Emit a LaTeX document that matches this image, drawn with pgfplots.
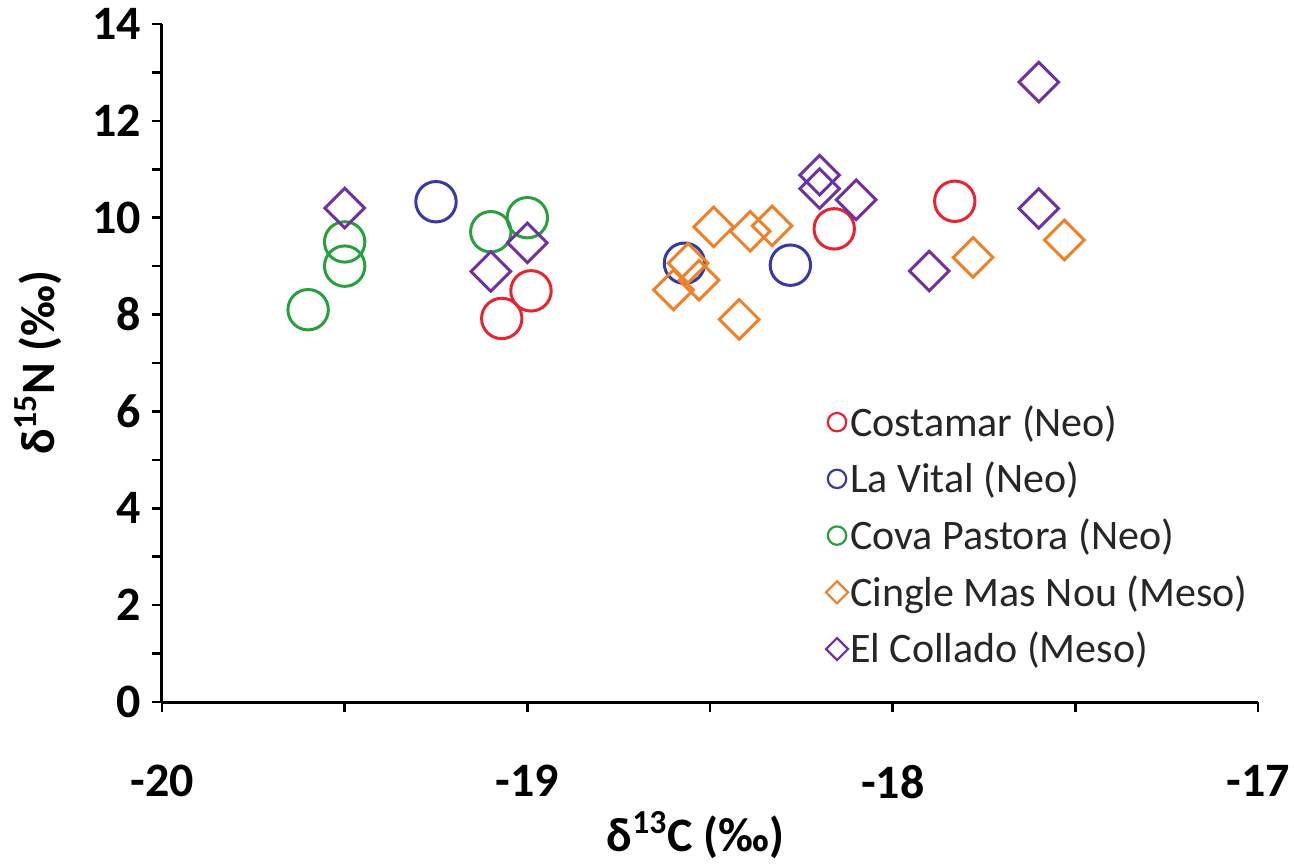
\documentclass[border=0pt]{standalone}
\usepackage{fontspec}
\setmainfont{Carlito}
\usepackage{pgfplots}
\pgfplotsset{compat=1.18}

\definecolor{cRed}{RGB}{232,36,48}
\definecolor{cBlue}{RGB}{56,56,168}
\definecolor{cGreen}{RGB}{40,160,62}
\definecolor{cOrange}{RGB}{240,128,40}
\definecolor{cPurple}{RGB}{112,50,160}

\pgfplotsset{
  circ legend/.style={legend image code/.code={
      \draw[##1, mark size=4.6pt, line width=1.1pt] plot coordinates {(0.2cm,0cm)};}},
  diam legend/.style={legend image code/.code={
      \draw[##1, mark size=3.9pt, line width=1.1pt] plot coordinates {(0.2cm,0cm)};}},
}

\begin{document}
\begin{tikzpicture}
\useasboundingbox (-81pt,-82pt) rectangle (566pt,351pt);
\begin{axis}[
    scale only axis,
    width=548pt, height=339pt,
    xmin=-20, xmax=-17, ymin=0, ymax=14,
    xtick={-20,-19,-18,-17},
    ytick={0,2,4,6,8,10,12,14},
    minor x tick num=1,
    minor y tick num=1,
    axis lines=left,
    axis line style={-, line width=1.5pt},
    tick style={line width=1.3pt, black},
    tick align=outside,
    major tick length=5pt,
    minor tick length=5pt,
    /pgf/number format/assume math mode=true,
    ticklabel style={font=\fontsize{24}{28}\selectfont\bfseries},
    xticklabel style={yshift=-23pt},
    yticklabel style={xshift=-2pt},
    xlabel={δ\textsuperscript{13}C (‰)},
    ylabel={δ\textsuperscript{15}N (‰)},
    label style={font=\fontsize{24}{28}\selectfont\bfseries},
    xlabel style={at={(axis description cs:0.487,-0.196)}, anchor=center},
    ylabel style={at={(axis description cs:-0.113,0.5)}, anchor=center, rotate=0},
    legend style={at={(rel axis cs:0.6,0.45)}, anchor=north west, draw=none, fill=none,
        font=\fontsize{21}{25}\selectfont, row sep=7.5pt, text=black!85,
        nodes={inner xsep=1pt}},
    legend cell align=left,
]
\addplot[only marks, mark=o, mark size=10.1pt, line width=1.5pt, color=cRed, circ legend] coordinates {
    (-19.07,7.92) (-18.99,8.49) (-18.16,9.77) (-17.83,10.34)
};
\addlegendentry{Costamar (Neo)}
\addplot[only marks, mark=o, mark size=10.1pt, line width=1.5pt, color=cBlue, circ legend] coordinates {
    (-19.25,10.33) (-18.57,9.06) (-18.28,9.02)
};
\addlegendentry{La Vital (Neo)}
\addplot[only marks, mark=o, mark size=10.1pt, line width=1.5pt, color=cGreen, circ legend] coordinates {
    (-19.60,8.10) (-19.50,9.50) (-19.50,9.00) (-19.10,9.71) (-19.00,10.00)
};
\addlegendentry{Cova Pastora (Neo)}
\addplot[only marks, mark=square, mark size=7pt, mark options={rotate=45}, line width=1.5pt, color=cOrange, diam legend] coordinates {
    (-18.49,9.81) (-18.39,9.72) (-18.33,9.83) (-18.56,9.06) (-18.60,8.51)
    (-18.53,8.71) (-18.42,7.90) (-17.78,9.18) (-17.53,9.54)
};
\addlegendentry{Cingle Mas Nou (Meso)}
\addplot[only marks, mark=square, mark size=7pt, mark options={rotate=45}, line width=1.5pt, color=cPurple, diam legend] coordinates {
    (-19.50,10.20) (-19.10,8.89) (-19.00,9.48) (-17.60,12.80) (-18.20,10.88)
    (-18.20,10.60) (-18.10,10.37) (-17.90,8.90) (-17.60,10.19)
};
\addlegendentry{El Collado (Meso)}
\end{axis}
\end{tikzpicture}
\end{document}
